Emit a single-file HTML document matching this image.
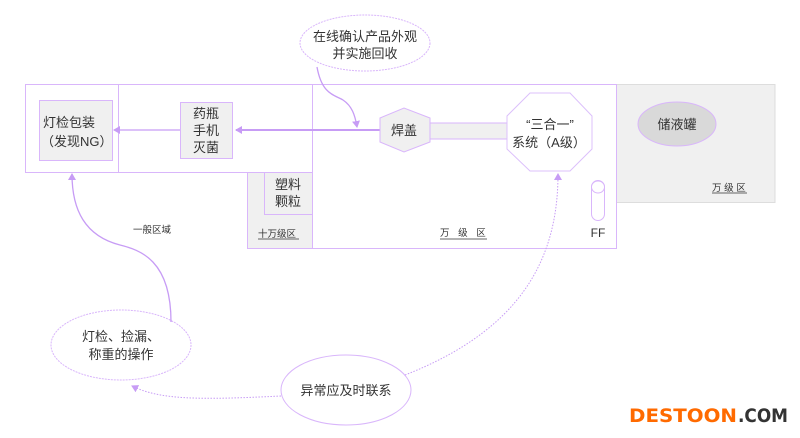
<!DOCTYPE html>
<html><head><meta charset="utf-8"><style>
body{margin:0;background:#fff;}
svg{display:block;font-family:"Liberation Sans","Noto Sans CJK SC",sans-serif;}
</style></head><body>
<svg width="800" height="438" viewBox="0 0 800 438" xmlns="http://www.w3.org/2000/svg">
<defs>
<marker id="a" markerWidth="8" markerHeight="8" refX="6" refY="4" orient="auto" markerUnits="userSpaceOnUse"><path d="M0,0 L7,4 L0,8 z" fill="#c79cf5"/></marker>
</defs>
<rect x="616" y="84.5" width="159" height="118" fill="#f0f0f0" stroke="#ddd"/>
<rect x="247.5" y="172.5" width="65" height="76" fill="#f0f0f0" stroke="#d9b6fb"/>
<rect x="264.5" y="172.5" width="48" height="42" fill="#f0f0f0" stroke="#d9b6fb"/>
<rect x="25.5" y="84.5" width="287" height="88" fill="#fff" stroke="#d9b6fb"/>
<line x1="118.5" y1="84.5" x2="118.5" y2="172.5" stroke="#d9b6fb"/>
<rect x="312.5" y="84.5" width="304" height="164" fill="#fff" stroke="#d9b6fb"/>
<rect x="39.5" y="100.5" width="73" height="60" fill="#f0f0f0" stroke="#d9b6fb"/>
<rect x="180.5" y="102.5" width="52" height="56" fill="#f0f0f0" stroke="#d9b6fb"/>
<line x1="380" y1="130" x2="236" y2="130" stroke="#c79cf5" stroke-width="2" marker-end="url(#a)"/>
<line x1="180" y1="130" x2="114" y2="130" stroke="#c79cf5" stroke-width="1.3" marker-end="url(#a)"/>
<rect x="429" y="123" width="80" height="16" fill="#f0f0f0" stroke="#d9b6fb"/>
<polygon points="380,118 404,108 430,118 430,142 404,152 380,142" fill="#f0f0f0" stroke="#d9b6fb"/>
<polygon points="530,93 570,93 592,116 592,149 570,171 530,171 507,149 507,116" fill="#fff" stroke="#dcc0fb" stroke-width="1"/>
<ellipse cx="677" cy="124" rx="39" ry="22" fill="#d9d9d9" stroke="#d9b6fb"/>
<rect x="591.5" y="180.5" width="13" height="40" rx="6.5" fill="#fff" stroke="#d9b6fb"/>
<ellipse cx="598" cy="187" rx="6.5" ry="6" fill="#fff" stroke="#d9b6fb"/>
<ellipse cx="365" cy="43" rx="65" ry="28" fill="#fff" stroke="#d9b6fb" stroke-dasharray="2,1"/>
<ellipse cx="121" cy="345" rx="70" ry="35" fill="#fff" stroke="#d9b6fb" stroke-dasharray="2,1"/>
<ellipse cx="346" cy="390" rx="65" ry="35" fill="#fff" stroke="#d9b6fb"/>
<path d="M317,67 C322,95 335,95 343,100 C352,106 355,115 357,127" fill="none" stroke="#c79cf5" stroke-width="1.3" marker-end="url(#a)"/>
<path d="M171,322 C171,260 140,250 120,245 C85,236 72,210 72,174" fill="none" stroke="#c79cf5" stroke-width="1.3" marker-end="url(#a)"/>
<path d="M405,375 C520,330 558,260 558,174" fill="none" stroke="#c79cf5" stroke-dasharray="1.5,1.5" marker-end="url(#a)"/>
<path d="M281,396 C200,400 160,400 132,386" fill="none" stroke="#c79cf5" stroke-dasharray="1.5,1.5" marker-end="url(#a)"/>
<g fill="#333" font-size="13">
<text x="43" y="127">灯检包装</text>
<text x="41" y="146">（发现NG）</text>
<text x="193" y="118">药瓶</text>
<text x="193" y="135">手机</text>
<text x="193" y="152">灭菌</text>
<text x="275" y="189">塑料</text>
<text x="275" y="206">颗粒</text>
<text x="391" y="135">焊盖</text>
<text x="550" y="129" text-anchor="middle">“三合一”</text>
<text x="549" y="147" text-anchor="middle">系统（A级）</text>
<text x="677" y="129" text-anchor="middle">储液罐</text>
<text x="365" y="41" text-anchor="middle">在线确认产品外观</text>
<text x="365" y="58" text-anchor="middle">并实施回收</text>
<text x="121" y="341" text-anchor="middle">灯检、捡漏、</text>
<text x="121" y="359" text-anchor="middle">称重的操作</text>
<text x="346" y="395" text-anchor="middle">异常应及时联系</text>
<text x="598" y="237" text-anchor="middle" font-size="12">FF</text>
</g>
<g fill="#333" font-size="9.5">
<text x="133" y="233">一般区域</text>
<text x="258" y="237">十万级区</text>
<line x1="258" y1="239" x2="299" y2="239" stroke="#333" stroke-width="0.7"/>
<text x="440" y="236" letter-spacing="3">万 级 区</text>
<line x1="440" y1="239" x2="487" y2="239" stroke="#333" stroke-width="0.7"/>
<text x="712" y="191">万 级 区</text>
<line x1="712" y1="193" x2="747" y2="193" stroke="#333" stroke-width="0.7"/>
</g>
<g font-size="19" font-weight="bold" font-family="'DejaVu Sans',sans-serif">
<text x="629" y="422" fill="#ff6a00" textLength="108" lengthAdjust="spacingAndGlyphs">DESTOON</text>
<text x="738" y="422" fill="#333" textLength="50" lengthAdjust="spacingAndGlyphs">.COM</text>
</g>
</svg>
</body></html>
